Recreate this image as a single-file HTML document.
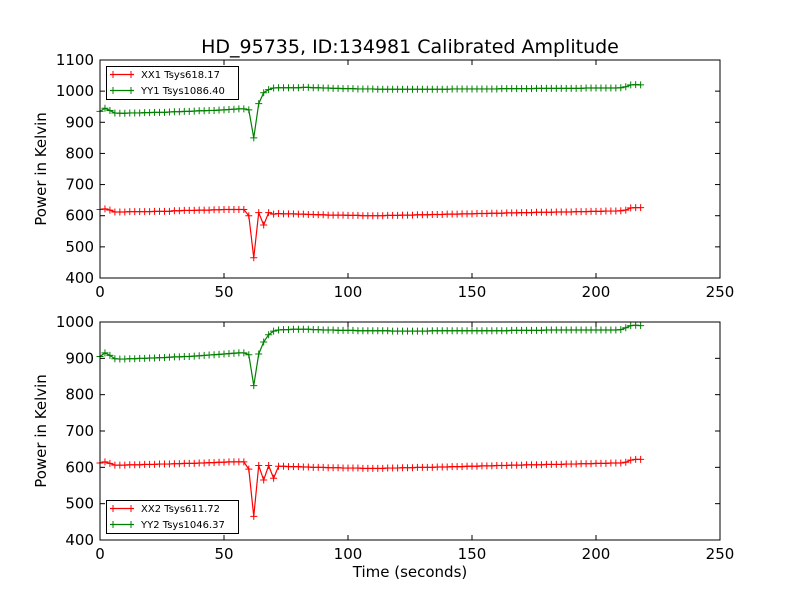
<!DOCTYPE html>
<html><head><meta charset="utf-8">
<style>
html,body{margin:0;padding:0;background:#fff;}
svg{display:block;font-family:"DejaVu Sans","Liberation Sans",sans-serif;}
</style></head>
<body>
<svg id="chart" width="800" height="600" viewBox="0 0 800 600" xmlns="http://www.w3.org/2000/svg">
<rect width="800" height="600" fill="#fff"/>
<text x="410" y="53" font-size="19" text-anchor="middle">HD_95735, ID:134981 Calibrated Amplitude</text>
</svg>
<script>
const times = [0,2,4,6,8,10,12,14,16,18,20,22,24,26,28,30,32,34,36,38,40,42,44,46,48,50,52,54,56,58,60,62,64,66,68,70,72,74,76,78,80,82,84,86,88,90,92,94,96,98,100,102,104,106,108,110,112,114,116,118,120,122,124,126,128,130,132,134,136,138,140,142,144,146,148,150,152,154,156,158,160,162,164,166,168,170,172,174,176,178,180,182,184,186,188,190,192,194,196,198,200,202,204,206,208,210,212,214,216,218];
const xx1 = [620,622,618,612,612,612,613,613,613,613,613,614,614,614,614,616,616,617,617,617,618,618,618,619,619,620,620,620,620,620,600,465,610,570,610,605,607,606,606,606,605,605,604,604,603,603,602,602,602,602,601,601,601,600,600,600,600,600,601,601,601,602,602,602,603,603,603,604,604,604,605,605,605,606,606,606,607,607,607,608,608,608,609,609,609,610,610,610,611,611,611,611,612,612,612,612,613,613,613,614,614,614,615,615,615,616,618,625,626,626];
const yy1 = [935,945,938,930,929,929,930,930,930,931,931,932,932,932,933,934,934,935,935,936,937,937,938,938,939,940,941,942,943,943,940,850,960,995,1005,1010,1011,1011,1011,1011,1011,1012,1012,1011,1011,1010,1010,1009,1009,1008,1008,1008,1007,1007,1007,1007,1006,1006,1006,1006,1006,1006,1006,1006,1006,1006,1006,1006,1006,1006,1006,1007,1007,1007,1007,1007,1007,1007,1007,1007,1007,1008,1008,1008,1008,1008,1008,1008,1009,1009,1009,1009,1009,1009,1009,1009,1009,1009,1010,1010,1010,1010,1010,1010,1010,1011,1014,1020,1021,1020];
const xx2 = [612,615,611,606,606,606,607,607,607,608,608,608,609,609,609,610,610,611,611,611,612,612,613,613,614,614,615,615,615,615,595,465,605,565,605,570,603,603,602,602,602,601,601,600,600,600,599,599,599,598,598,598,598,597,597,597,597,597,598,598,598,599,599,599,600,600,600,600,601,601,601,602,602,602,603,603,603,604,604,604,605,605,605,606,606,606,607,607,607,607,608,608,608,608,609,609,609,610,610,610,611,611,611,612,612,612,614,620,622,622];
const yy2 = [905,915,908,899,898,898,899,899,900,900,901,901,902,902,903,904,904,905,905,906,907,908,909,910,911,912,913,914,915,915,910,825,912,945,965,975,978,979,979,980,980,980,980,979,979,978,978,978,977,977,977,977,976,976,976,976,976,976,976,975,975,975,975,975,975,975,975,976,976,976,976,976,976,976,976,976,976,976,976,976,976,976,976,977,977,977,977,977,977,977,978,978,978,978,978,978,978,978,978,978,978,978,978,978,978,979,984,990,991,990];
const xTicks = [0,50,100,150,200,250];
const yTicksTop = [400,500,600,700,800,900,1000,1100];
const yTicksBot = [400,500,600,700,800,900,1000];

const NS = "http://www.w3.org/2000/svg";
const svg = document.getElementById('chart');
function mk(tag, attrs, parent){
  const e = document.createElementNS(NS, tag);
  for (const k in attrs) e.setAttribute(k, attrs[k]);
  (parent||svg).appendChild(e);
  return e;
}
const X0=100, X1=720;
function xScale(t){ return X0 + (t-0)/(250-0)*(X1-X0); }

function panel(name, top, bottom, ymin, ymax, yTicks, series, legendY){
  const g = mk('g', {});
  
  
  const yScale = v => bottom - (v-ymin)/(ymax-ymin)*(bottom-top);
  // series
  series.forEach(s=>{
    const sg = mk('g', {}, g);
    
    
    const pts = s.vals.map((v,i)=>xScale(times[i]).toFixed(2)+','+yScale(v).toFixed(2)).join(' ');
    mk('polyline', {points:pts, fill:'none', stroke:s.color, 'stroke-width':1.2}, sg);
    let d='';
    s.vals.forEach((v,i)=>{
      const x=xScale(times[i]), y=yScale(v);
      d+=`M${(x-3.5).toFixed(2)},${y.toFixed(2)}h7M${x.toFixed(2)},${(y-3.5).toFixed(2)}v7`;
    });
    mk('path', {d:d, stroke:s.color, 'stroke-width':1, fill:'none'}, sg);
  });
  // frame
  const fr = mk('rect', {x:X0, y:top, width:X1-X0, height:bottom-top, fill:'none', stroke:'#000', 'stroke-width':1}, g);
  
  
  // x ticks
  xTicks.forEach(t=>{
    const x=xScale(t);
    mk('line',{x1:x,y1:bottom,x2:x,y2:bottom-5,stroke:'#000'},g);
    mk('line',{x1:x,y1:top,x2:x,y2:top+5,stroke:'#000'},g);
    const tl = mk('text',{x:x,y:bottom+19,'font-size':15,'text-anchor':'middle'},g);
    
    
    tl.textContent=t;
  });
  yTicks.forEach(v=>{
    const y=yScale(v);
    mk('line',{x1:X0,y1:y,x2:X0+5,y2:y,stroke:'#000'},g);
    mk('line',{x1:X1,y1:y,x2:X1-5,y2:y,stroke:'#000'},g);
    const tl = mk('text',{x:X0-6,y:y+5,'font-size':15,'text-anchor':'end'},g);
    
    
    tl.textContent=v;
  });
  const yl = mk('text',{x:0,y:0,'font-size':15,'text-anchor':'middle',transform:`translate(46,${(top+bottom)/2}) rotate(-90)`},g);
  
  
  yl.textContent='Power in Kelvin';
  // legend
  const lg = mk('g',{},g);
  
  
  mk('rect',{x:106.5,y:legendY+0.5,width:132,height:33,fill:'#fff',stroke:'#000','stroke-width':1},lg);
  series.forEach((s,i)=>{
    const ey = legendY+8.5+i*16;
    const eg = mk('g',{},lg);
    
    
    mk('line',{x1:110,y1:ey,x2:134,y2:ey,stroke:s.color,'stroke-width':1.2},eg);
    mk('line',{x1:113,y1:ey-3.5,x2:113,y2:ey+3.5,stroke:s.color},eg);
    mk('line',{x1:131,y1:ey-3.5,x2:131,y2:ey+3.5,stroke:s.color},eg);
    const t = mk('text',{x:141,y:ey+3.5,'font-size':10},eg);
    t.textContent = s.label;
  });
}
panel('top-panel', 60, 278, 400, 1100, yTicksTop, [
  {name:'xx1-series', vals:xx1, color:'#ff0000', label:'XX1 Tsys618.17'},
  {name:'yy1-series', vals:yy1, color:'#008000', label:'YY1 Tsys1086.40'}
], 66);
panel('bottom-panel', 322, 540, 400, 1000, yTicksBot, [
  {name:'xx2-series', vals:xx2, color:'#ff0000', label:'XX2 Tsys611.72'},
  {name:'yy2-series', vals:yy2, color:'#008000', label:'YY2 Tsys1046.37'}
], 500);
const xt = mk('text',{x:410,y:577,'font-size':15,'text-anchor':'middle'});


xt.textContent='Time (seconds)';
</script>
</body></html>
